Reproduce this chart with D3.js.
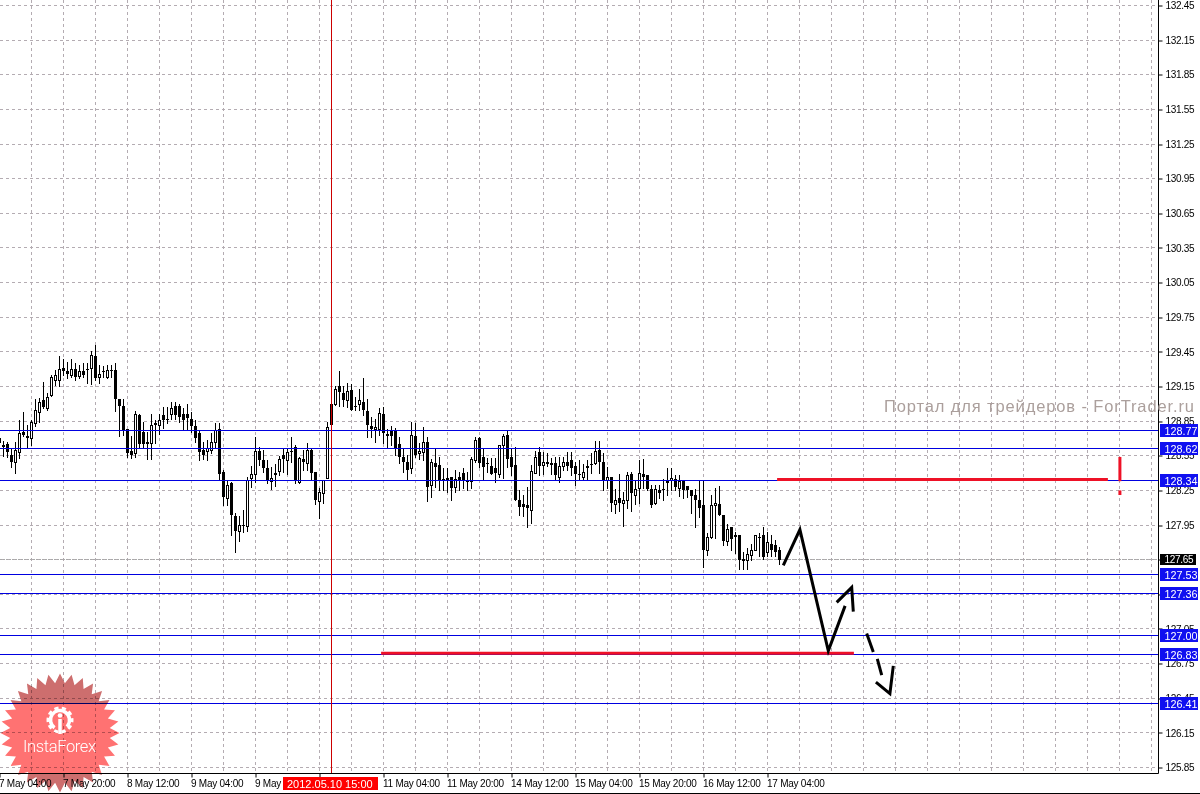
<!DOCTYPE html>
<html><head><meta charset="utf-8">
<script src="https://cdn.jsdelivr.net/npm/d3@7/dist/d3.min.js"></script>
<style>
html,body{margin:0;padding:0;background:#fff;overflow:hidden}
svg{display:block}
text{font-family:"Liberation Sans",Arial,sans-serif}
</style></head><body>
<svg id="c" width="1200" height="794"></svg>
<script>
const opens=[128.70,128.64,128.65,128.56,128.50,128.58,128.76,128.72,128.70,128.83,
128.93,129.03,128.96,129.08,129.21,129.21,129.31,129.28,129.25,129.30,
129.24,129.28,129.30,129.31,129.41,129.23,129.28,129.23,129.29,129.29,
129.04,128.98,128.78,128.59,128.57,128.90,128.76,128.67,128.66,128.83,
128.82,128.90,128.87,128.91,128.98,128.98,128.91,128.91,128.87,128.81,
128.75,128.60,128.59,128.60,128.67,128.78,128.41,128.18,128.31,128.03,
127.90,127.95,127.94,128.36,128.39,128.59,128.51,128.44,128.33,128.40,
128.42,128.56,128.51,128.59,128.63,128.32,128.52,128.49,128.60,128.41,
128.16,128.23,128.36,129.00,129.00,129.15,129.09,129.03,129.12,128.98,
129.00,129.02,128.94,128.81,128.78,128.78,128.91,128.74,128.77,128.77,
128.65,128.54,128.50,128.44,128.72,128.57,128.58,128.67,128.30,128.49,
128.47,128.35,128.36,128.37,128.28,128.37,128.40,128.33,128.33,128.51,
128.70,128.54,128.49,128.46,128.44,128.39,128.64,128.73,128.54,128.47,
128.17,128.13,128.12,128.08,128.40,128.58,128.47,128.50,128.49,128.49,
128.37,128.46,128.50,128.51,128.46,128.39,128.37,128.46,128.48,128.49,
128.60,128.50,128.34,128.37,128.13,128.18,128.14,128.17,128.39,128.21,
128.27,128.39,128.38,128.26,128.14,128.25,128.26,128.33,128.34,128.35,
128.27,128.33,128.29,128.25,128.21,128.17,128.12,127.73,127.85,128.12,
128.13,128.04,127.81,127.93,127.86,127.86,127.66,127.65,127.69,127.73,
127.85,127.86,127.72,127.79,127.78,127.73];
const highs=[128.71,128.68,128.67,128.62,128.67,128.86,128.93,128.82,128.86,129.04,
129.05,129.19,129.09,129.25,129.29,129.41,129.39,129.36,129.39,129.35,
129.34,129.35,129.35,129.46,129.51,129.34,129.33,129.34,129.34,129.35,
129.04,129.04,128.78,128.72,128.94,128.91,128.84,128.76,128.91,128.86,
128.91,128.97,128.97,129.02,129.02,129.00,128.96,129.00,128.93,128.86,
128.77,128.67,128.69,128.75,128.83,128.83,128.43,128.34,128.32,128.05,
128.03,128.08,128.37,128.46,128.71,128.63,128.60,128.51,128.45,128.48,
128.55,128.61,128.61,128.71,128.64,128.54,128.60,128.66,128.61,128.41,
128.27,128.34,128.84,129.00,129.15,129.28,129.15,129.18,129.17,129.06,
129.13,129.22,129.04,128.89,128.87,128.96,128.97,128.78,128.81,128.79,
128.71,128.61,128.56,128.84,128.83,128.66,128.80,128.71,128.52,128.62,
128.54,128.44,128.44,128.37,128.43,128.41,128.44,128.41,128.54,128.71,
128.71,128.61,128.53,128.53,128.53,128.64,128.74,128.77,128.62,128.63,
128.25,128.21,128.28,128.47,128.59,128.63,128.58,128.57,128.53,128.54,
128.54,128.54,128.58,128.58,128.50,128.51,128.48,128.51,128.57,128.68,
128.68,128.57,128.45,128.37,128.26,128.39,128.24,128.41,128.41,128.33,
128.51,128.52,128.38,128.30,128.30,128.30,128.35,128.44,128.44,128.38,
128.38,128.33,128.29,128.25,128.26,128.33,128.33,127.88,128.21,128.27,
128.29,128.04,127.96,127.93,127.89,127.86,127.72,127.75,127.79,127.86,
127.88,127.93,127.89,127.86,127.82,127.76];
const lows=[128.63,128.55,128.54,128.45,128.40,128.53,128.72,128.63,128.64,128.81,
128.84,128.96,128.95,129.07,129.16,129.15,129.25,129.22,129.23,129.21,
129.22,129.23,129.18,129.17,129.21,129.18,129.23,129.22,129.23,128.94,
128.72,128.73,128.54,128.53,128.54,128.63,128.62,128.52,128.52,128.66,
128.74,128.79,128.83,128.87,128.87,128.84,128.78,128.78,128.76,128.67,
128.51,128.52,128.51,128.57,128.63,128.34,128.12,128.12,127.86,127.72,
127.81,127.89,127.90,128.28,128.32,128.47,128.41,128.31,128.26,128.29,
128.38,128.41,128.39,128.50,128.31,128.31,128.43,128.43,128.35,128.13,
128.01,128.14,128.36,128.82,128.99,128.98,128.98,128.97,128.95,128.95,
128.95,128.90,128.71,128.71,128.67,128.73,128.66,128.63,128.64,128.56,
128.49,128.41,128.34,128.40,128.54,128.52,128.51,128.16,128.19,128.28,
128.25,128.25,128.24,128.17,128.24,128.25,128.27,128.25,128.27,128.50,
128.45,128.34,128.41,128.39,128.32,128.37,128.36,128.45,128.38,128.17,
128.04,128.03,127.93,127.97,128.40,128.38,128.39,128.46,128.39,128.35,
128.32,128.43,128.43,128.38,128.30,128.34,128.35,128.35,128.40,128.48,
128.40,128.25,128.27,128.07,128.05,128.07,127.94,128.10,128.07,128.13,
128.14,128.27,128.25,128.11,128.13,128.18,128.17,128.21,128.25,128.25,
128.20,128.18,128.19,128.05,127.93,128.02,127.59,127.69,127.84,127.84,
128.04,127.78,127.78,127.73,127.71,127.57,127.57,127.57,127.65,127.73,
127.68,127.66,127.68,127.68,127.68,127.61];
const closes=[128.66,128.63,128.58,128.50,128.60,128.75,128.73,128.70,128.84,128.95,
129.02,128.97,129.06,129.23,129.25,129.30,129.28,129.26,129.30,129.23,
129.28,129.25,129.30,129.42,129.22,129.26,129.28,129.29,129.29,129.04,
128.98,128.77,128.57,128.56,128.91,128.65,128.65,128.65,128.82,128.82,
128.86,128.86,128.86,128.96,128.90,128.89,128.86,128.88,128.81,128.70,
128.58,128.56,128.62,128.67,128.77,128.39,128.19,128.30,128.04,127.90,
127.95,127.94,128.34,128.39,128.59,128.51,128.44,128.33,128.36,128.38,
128.52,128.52,128.58,128.59,128.33,128.53,128.50,128.60,128.40,128.17,
128.24,128.34,128.80,128.82,129.13,129.10,129.03,129.11,128.95,128.97,
129.03,128.95,128.82,128.78,128.80,128.92,128.75,128.72,128.72,128.61,
128.54,128.50,128.43,128.73,128.56,128.59,128.67,128.28,128.50,128.45,
128.34,128.33,128.33,128.27,128.35,128.33,128.33,128.32,128.52,128.69,
128.49,128.45,128.49,128.39,128.40,128.64,128.72,128.52,128.45,128.17,
128.11,128.11,128.10,128.42,128.54,128.46,128.50,128.48,128.47,128.38,
128.46,128.50,128.46,128.44,128.39,128.39,128.41,128.44,128.48,128.59,
128.50,128.33,128.37,128.14,128.17,128.14,128.17,128.38,128.23,128.26,
128.40,128.37,128.26,128.12,128.26,128.23,128.26,128.31,128.36,128.28,
128.33,128.25,128.25,128.20,128.17,128.10,127.73,127.85,128.12,128.14,
128.04,127.81,127.92,127.83,127.85,127.65,127.64,127.70,127.73,127.86,
127.85,127.67,127.80,127.73,127.72,127.65];

const priceTicks=[132.45,132.15,131.85,131.55,131.25,130.95,130.65,130.35,130.05,129.75,129.45,129.15,128.85,128.55,128.25,127.95,127.65,127.35,127.05,126.75,126.45,126.15,125.85];
const timeLabels=["7 May 04:00","7 May 20:00","8 May 12:00","9 May 04:00","9 May 20:00","10 May 12:00","11 May 04:00","11 May 20:00","14 May 12:00","15 May 04:00","15 May 20:00","16 May 12:00","17 May 04:00"];
const levels=[128.77,128.62,128.34,127.53,127.36,127.00,126.83,126.41];
const lastPrice=127.65;
const crosshairBar=83;
const crosshairLabel="2012.05.10 15:00";
const arrowPaths=[
 [[195.95,127.60],[200.1,127.91],[207.2,126.86],[211.4,127.25]],
 [[209.3,127.28],[213.05,127.41],[213.45,127.20]],
 [[216.8,127.01],[218.45,126.85]],
 [[219.45,126.79],[220.55,126.65]],
 [[219.1,126.59],[222.6,126.49],[223.45,126.73]]
];
const redSegments=[
 [[194.4,128.345],[277.1,128.345]],
 [[95.4,126.84],[213.6,126.84]],
 [[280.1,128.54],[280.1,128.33]],
 [[280.1,128.25],[280.1,128.21]]
];

const svg=d3.select("#c");
const W=1158, B=773;
const x=d3.scaleLinear().domain([0,1]).range([-0.5,3.5]);
const y=d3.scaleLinear().domain([132.45,125.85]).range([5.5,767.5]);
const crisp=v=>Math.floor(v)+0.5;
const crispLevel=v=>Math.round(v-0.01)+0.5;
const gridCol="#b4acb2";

// grid
const grid=svg.append("g").attr("stroke",gridCol).attr("stroke-dasharray","3,3");
grid.selectAll("line.h").data(priceTicks).join("line").attr("class","h")
  .attr("x1",0).attr("x2",W).attr("y1",d=>crisp(y(d))).attr("y2",d=>crisp(y(d)));
const vBars=d3.range(8,292,8);
grid.selectAll("line.v").data(vBars).join("line").attr("class","v")
  .attr("x1",d=>x(d)).attr("x2",d=>x(d)).attr("y1",0).attr("y2",B);

// current price line
svg.append("line").attr("x1",0).attr("x2",W).attr("y1",crisp(y(lastPrice))).attr("y2",crisp(y(lastPrice)))
  .attr("stroke","#a9a9a9").attr("stroke-dasharray","2,1");

// candles
const bars=d3.range(opens.length).map(i=>({i,o:opens[i],h:highs[i],l:lows[i],c:closes[i]}));
const cg=svg.append("g").attr("shape-rendering","crispEdges");
const candle=cg.selectAll("g").data(bars).join("g");
candle.append("line").attr("x1",d=>x(d.i)).attr("x2",d=>x(d.i))
  .attr("y1",d=>Math.round(y(d.h))).attr("y2",d=>Math.round(y(d.l))+1).attr("stroke","#000");
candle.append("rect")
  .attr("x",d=>d.c>d.o?x(d.i)-1:x(d.i)-1.5)
  .attr("width",d=>d.c>d.o?2:3)
  .attr("y",d=>{const t=Math.round(y(Math.max(d.o,d.c)));return d.c>d.o?t+0.5:t;})
  .attr("height",d=>{const h=Math.round(y(Math.min(d.o,d.c)))-Math.round(y(Math.max(d.o,d.c)));return Math.max(h,1);})
  .attr("fill",d=>d.c>d.o?"#fff":"#000")
  .attr("stroke",d=>d.c>d.o?"#000":"none");

// horizontal levels
svg.append("g").selectAll("line").data(levels).join("line")
  .attr("x1",0).attr("x2",W).attr("y1",d=>crispLevel(y(d))).attr("y2",d=>crispLevel(y(d)))
  .attr("stroke","#0000e0").attr("stroke-width",1);

// crosshair
svg.append("line").attr("x1",x(crosshairBar)).attr("x2",x(crosshairBar)).attr("y1",0).attr("y2",B)
  .attr("stroke","#cc0000");

// red markers
const ln=d3.line().x(d=>x(d[0])).y(d=>y(d[1]));
svg.append("g").selectAll("path").data(redSegments).join("path").attr("d",ln)
  .attr("fill","none").attr("stroke","#ee1126").attr("stroke-width",3);

// hand-drawn arrows
svg.append("g").selectAll("path").data(arrowPaths).join("path").attr("d",ln)
  .attr("fill","none").attr("stroke","#000").attr("stroke-width",3).attr("stroke-linejoin","miter");

// axes
const yAxis=d3.axisRight(y).tickValues(priceTicks).tickSize(4).tickPadding(3).tickFormat(d3.format(".2f"));
const yG=svg.append("g").attr("transform",`translate(${W+0.5},0)`).call(yAxis);
yG.select(".domain").attr("d",`M0,0V${B+0.5}`).attr("stroke","#000");
yG.selectAll("text").attr("font-size",10).attr("fill","#000").attr("letter-spacing","-0.3px")
  .attr("font-family",'"Liberation Sans",Arial,sans-serif');
yG.selectAll("line").attr("stroke","#000").attr("y1",d=>crisp(y(d))-y(d)).attr("y2",d=>crisp(y(d))-y(d));

const labelBars=timeLabels.map((_,i)=>i*16);
const xAxis=d3.axisBottom(x).tickValues(labelBars).tickSize(4).tickPadding(2).tickFormat((d,i)=>timeLabels[i]);
const xG=svg.append("g").attr("transform",`translate(0,${B+0.5})`).call(xAxis);
xG.select(".domain").attr("d",`M0,0H${W+0.5}`).attr("stroke","#000");
xG.selectAll("line").attr("stroke","#000");
xG.selectAll("text").attr("text-anchor","start").attr("font-size",10).attr("fill","#000").attr("letter-spacing","-0.25px")
  .attr("dx",-1).attr("font-family",'"Liberation Sans",Arial,sans-serif');

// bottom frame
svg.append("line").attr("x1",0).attr("x2",1200).attr("y1",793.5).attr("y2",793.5).attr("stroke","#000");

// price labels
const lab=svg.append("g").selectAll("g").data(levels).join("g")
  .attr("transform",d=>`translate(1160,${crispLevel(y(d))})`);
lab.append("rect").attr("x",0).attr("y",-6.5).attr("width",38).attr("height",13).attr("fill","#1010f0");
lab.append("text").attr("x",4.5).attr("y",4.5).attr("font-size",10.8).attr("fill","#fff").text(d=>d.toFixed(2));

const lastG=svg.append("g").attr("transform",`translate(1160,${crisp(y(lastPrice))})`);
lastG.append("rect").attr("x",0).attr("y",-5.5).attr("width",36).attr("height",11).attr("fill","#000");
lastG.append("text").attr("x",4.5).attr("y",3.5).attr("font-size",10).attr("fill","#fff").attr("letter-spacing","-0.3px").text(lastPrice.toFixed(2));

// crosshair time label
svg.append("rect").attr("x",283).attr("y",777).attr("width",95).attr("height",13).attr("fill","#ff0000");
svg.append("text").attr("x",287).attr("y",787.5).attr("font-size",11).attr("fill","#fff").text(crosshairLabel);

// watermark
svg.append("text").attr("x",884).attr("y",412).attr("font-family",'"DejaVu Sans"').attr("font-size",16.5)
  .attr("textLength",310).attr("lengthAdjust","spacing").attr("fill","#ab9f9c").text("Портал для трейдеров - ForTrader.ru");

// logo
const cx=60, cy=733, n=32;
const pts=d3.range(n*2).map(k=>{const r=k%2?50:59.5,a=k*Math.PI/n-Math.PI/2;return [cx+r*Math.cos(a),cy+r*Math.sin(a)];});
const defs=svg.append("defs");
defs.append("clipPath").attr("id","mid").append("rect").attr("x",0).attr("y",703).attr("width",130).attr("height",70);
defs.append("clipPath").attr("id","top").append("rect").attr("x",0).attr("y",660).attr("width",130).attr("height",43);
defs.append("clipPath").attr("id","bot").append("rect").attr("x",0).attr("y",773).attr("width",130).attr("height",21);
const star=d3.line()(pts)+"Z";
svg.append("path").attr("d",star).attr("clip-path","url(#mid)").attr("fill","#ff7272").style("mix-blend-mode","multiply");
svg.append("path").attr("d",star).attr("clip-path","url(#top)").attr("fill","#cd6e6e").style("mix-blend-mode","multiply");
svg.append("path").attr("d",star).attr("clip-path","url(#bot)").attr("fill","#cd6e6e").style("mix-blend-mode","multiply");
const gear=svg.append("g").attr("fill","none").attr("stroke","#fff");
const gx=60, gy=720;
gear.append("circle").attr("cx",gx).attr("cy",gy).attr("r",9.5).attr("stroke-width",3.5)
  .attr("stroke-dasharray","46,13.7").attr("transform",`rotate(125 ${gx} ${gy})`);
gear.append("circle").attr("cx",gx).attr("cy",gy).attr("r",12).attr("stroke-width",3)
  .attr("stroke-dasharray","4.2,3.3").attr("stroke-dashoffset","2");
gear.append("line").attr("x1",gx).attr("x2",gx).attr("y1",gy-1).attr("y2",gy+14).attr("stroke-width",3.5);
gear.append("circle").attr("cx",gx).attr("cy",gy-4.5).attr("r",2.3).attr("fill","#fff").attr("stroke","none");
svg.append("text").attr("x",23).attr("y",752).attr("font-family","Roboto").attr("font-weight",300).attr("font-size",16.5)
  .attr("textLength",73).attr("fill","#fff").style("font-family","Roboto").text("InstaForex");
</script>
</body></html>
